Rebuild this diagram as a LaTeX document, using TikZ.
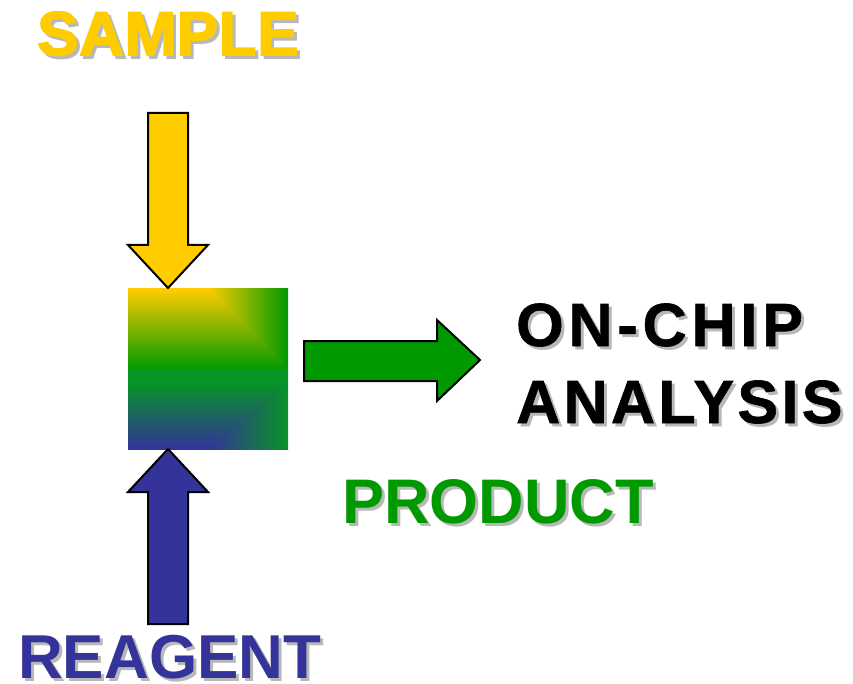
\documentclass[tikz,border=0pt]{standalone}
\usepackage{fontspec}
\setmainfont{Liberation Sans}
\definecolor{cyel}{HTML}{FFCC00}
\definecolor{cgrn}{HTML}{009900}
\definecolor{cblu}{HTML}{333399}
\definecolor{cshd}{HTML}{B8B8B8}
\pgfdeclarefunctionalshading{tophalf}{\pgfpoint{0bp}{0bp}}{\pgfpoint{100bp}{100bp}}{}{
  25 sub 50 div 1 exch sub
  exch 25 sub 50 div 0.5 sub 2 mul
  2 copy lt {exch} if pop
  dup 1 gt {pop 1} if dup 0 lt {pop 0} if
  dup 1 exch sub exch
  dup 0.2 mul 0.8 exch sub exch
  pop 0
}
\pgfdeclarefunctionalshading{bothalf}{\pgfpoint{0bp}{0bp}}{\pgfpoint{100bp}{100bp}}{}{
  25 sub 50 div 1.2 mul
  exch 25 sub 50 div 0.5 sub 2 mul
  2 copy lt {exch} if pop
  dup 1 gt {pop 1} if dup 0 lt {pop 0} if
  dup 0.17 mul 0.2 exch sub exch
  dup 0.38 mul 0.2 add exch
  0.45 mul 0.6 exch sub
}
\tikzset{
  arrowshape/.style={draw=black, line width=2pt, line join=miter},
  lbl/.style={font=\bfseries, inner sep=0pt, anchor=base west},
}
\newcommand{\shadowtext}[5]{% name, position, size, color, text
  \node[lbl, font=\fontsize{#3}{#3}\bfseries, text=cshd] at ($#2+(3,3)$) {#5};
  \node[lbl, font=\fontsize{#3}{#3}\bfseries, text=#4] (#1) at #2 {#5};
}
\usetikzlibrary{calc}
\begin{document}
\begin{tikzpicture}[x=1pt,y=-1pt]
\useasboundingbox (0,0) rectangle (853,684);
% gradient square
\shade[shading=tophalf] (128,289) rectangle (288,369.5);
\shade[shading=bothalf] (128,369) rectangle (288,449);
\node[inner sep=0pt, minimum size=160pt] (chip) at (208,369) {};
% sample arrow
\draw[arrowshape, fill=cyel] (148,113) -- (188,113) -- (188,245) -- (208,245) -- (168,288) -- (128,245) -- (148,245) -- cycle;
% reagent arrow
\draw[arrowshape, fill=cblu] (148,624) -- (188,624) -- (188,492) -- (208,492) -- (168,449) -- (128,492) -- (148,492) -- cycle;
% product arrow
\draw[arrowshape, fill=cgrn] (304,341) -- (437,341) -- (437,320) -- (480,360) -- (437,401) -- (437,381) -- (304,381) -- cycle;
% texts
\shadowtext{sample}{(37,55)}{62}{cyel}{\addfontfeature{FakeBold=2.5,LetterSpace=1}SAMPLE}
\shadowtext{reagent}{(18,678)}{62}{cblu}{REAGENT}
\shadowtext{product}{(342,523)}{63}{cgrn}{PRODUCT}
\shadowtext{onchip}{(516,346)}{61}{black}{\addfontfeature{FakeBold=1,LetterSpace=8}ON-CHIP}
\shadowtext{analysis}{(516,423)}{61}{black}{\addfontfeature{FakeBold=1,LetterSpace=5.5}ANALYSIS}
\end{tikzpicture}
\end{document}
